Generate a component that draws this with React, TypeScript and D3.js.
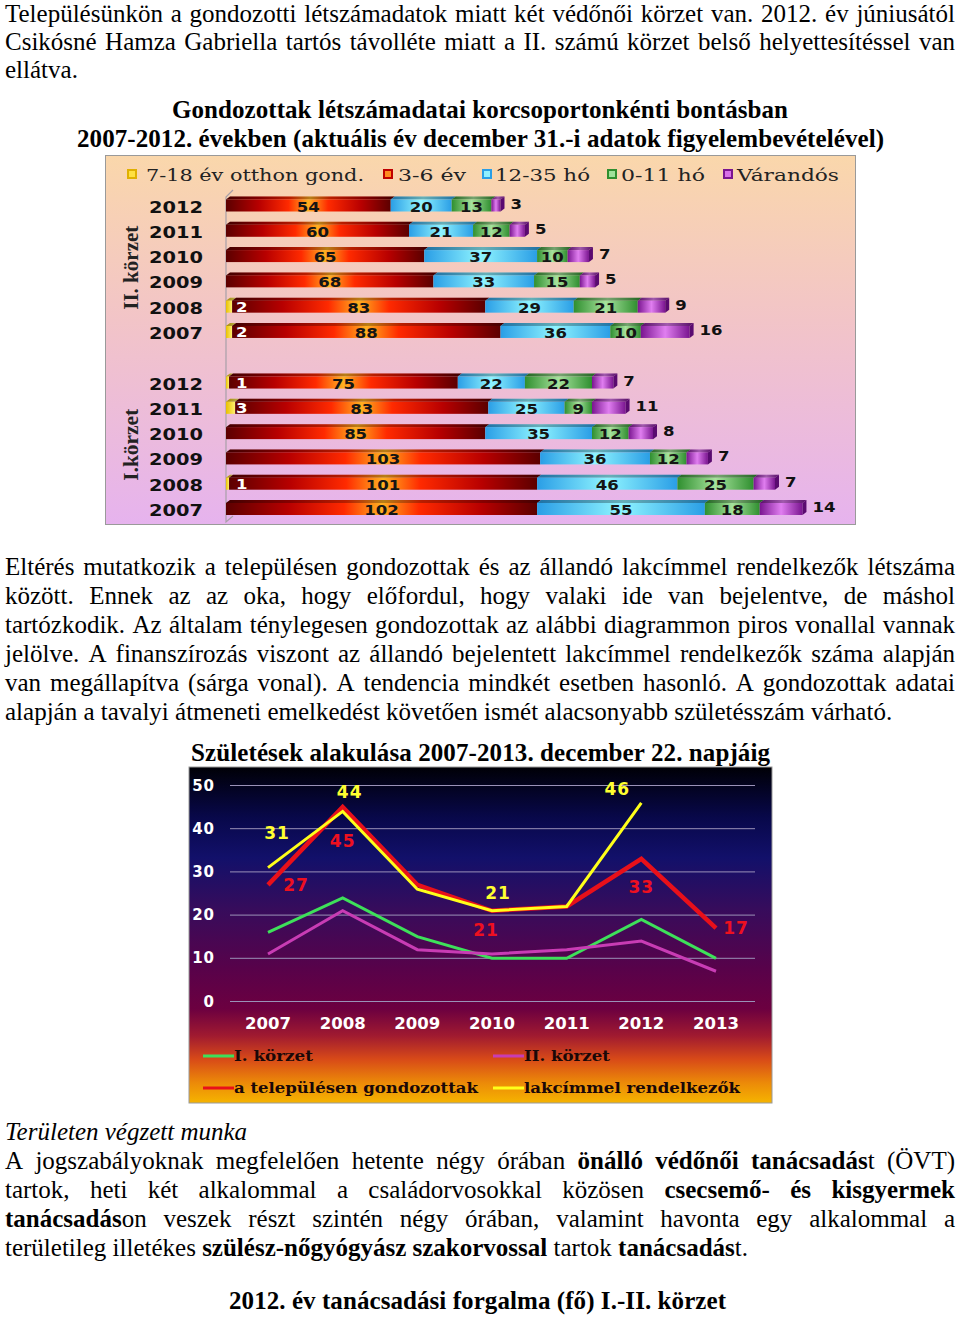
import React, { useMemo } from "react";
import * as d3 from "d3";

// ---------------- Bar chart data ----------------
const barYears = ["2012", "2011", "2010", "2009", "2008", "2007"];
const ageGroups = ["7-18 év otthon gond.", "3-6 év", "12-35 hó", "0-11 hó", "Várandós"];
const districtLabels = ["II. körzet", "I.körzet"];
// District II
const d2Age7to18 = [0, 0, 0, 0, 2, 2];
const d2Age3to6 = [54, 60, 65, 68, 83, 88];
const d2Month12to35 = [20, 21, 37, 33, 29, 36];
const d2Month0to11 = [13, 12, 10, 15, 21, 10];
const d2Expecting = [3, 5, 7, 5, 9, 16];
// District I
const d1Age7to18 = [1, 3, 0, 0, 1, 0];
const d1Age3to6 = [75, 83, 85, 103, 101, 102];
const d1Month12to35 = [22, 25, 35, 36, 46, 55];
const d1Month0to11 = [22, 9, 12, 12, 25, 18];
const d1Expecting = [7, 11, 8, 7, 7, 14];

// ---------------- Line chart data ----------------
const birthYears = ["2007", "2008", "2009", "2010", "2011", "2012", "2013"];
const lineYTicks = [0, 10, 20, 30, 40, 50];
const lineSeriesNames = ["I. körzet", "II. körzet", "a településen gondozottak", "lakcímmel rendelkezők"];
const birthsDistrictI = [16, 24, 15, 10, 10, 19, 10];
const birthsDistrictII = [11, 21, 12, 11, 12, 14, 7];
const birthsCaredFor = [27, 45, 27, 21, 22, 33, 17];
const birthsRegistered: (number | null)[] = [31, 44, 26, 21, 22, 46, null];

// ---------------- Page text ----------------
type Run = { t: string; b?: boolean; i?: boolean };
type Line = { y: number; j: boolean; runs: Run[] };

const para1: Line[] = [
  { y: 22, j: true, runs: [{ t: "Településünkön a gondozotti létszámadatok miatt két védőnői körzet van. 2012. év júniusától" }] },
  { y: 50, j: true, runs: [{ t: "Csikósné Hamza Gabriella tartós távolléte miatt a II. számú körzet belső helyettesítéssel van" }] },
  { y: 78, j: false, runs: [{ t: "ellátva." }] },
];
const para2: Line[] = [
  { y: 575, j: true, runs: [{ t: "Eltérés mutatkozik a településen gondozottak és az állandó lakcímmel rendelkezők létszáma" }] },
  { y: 604, j: true, runs: [{ t: "között. Ennek az az oka, hogy előfordul, hogy valaki ide van bejelentve, de máshol" }] },
  { y: 633, j: true, runs: [{ t: "tartózkodik. Az általam ténylegesen gondozottak az alábbi diagrammon piros vonallal vannak" }] },
  { y: 662, j: true, runs: [{ t: "jelölve. A finanszírozás viszont az állandó bejelentett lakcímmel rendelkezők száma alapján" }] },
  { y: 691, j: true, runs: [{ t: "van megállapítva (sárga vonal). A tendencia mindkét esetben hasonló. A gondozottak adatai" }] },
  { y: 720, j: false, runs: [{ t: "alapján a tavalyi átmeneti emelkedést követően ismét alacsonyabb születésszám várható." }] },
];
const para3: Line[] = [
  { y: 1140, j: false, runs: [{ t: "Területen végzett munka", i: true }] },
  { y: 1169, j: true, runs: [{ t: "A jogszabályoknak megfelelően hetente négy órában " }, { t: "önálló védőnői tanácsadás", b: true }, { t: "t (ÖVT)" }] },
  { y: 1198, j: true, runs: [{ t: "tartok, heti két alkalommal a családorvosokkal közösen " }, { t: "csecsemő- és kisgyermek", b: true }] },
  { y: 1227, j: true, runs: [{ t: "tanácsadás", b: true }, { t: "on veszek részt szintén négy órában, valamint havonta egy alkalommal a" }] },
  { y: 1256, j: false, runs: [{ t: "területileg illetékes " }, { t: "szülész-nőgyógyász szakorvossal", b: true }, { t: " tartok " }, { t: "tanácsadás", b: true }, { t: "t." }] },
];
const headings = [
  { y: 118, t: "Gondozottak létszámadatai korcsoportonkénti bontásban", x0: 172, x1: 788 },
  { y: 147, t: "2007-2012. években (aktuális év december 31.-i adatok figyelembevételével)", x0: 77, x1: 884 },
  { y: 761, t: "Születések alakulása 2007-2013. december 22. napjáig", x0: 191, x1: 770 },
  { y: 1309, t: "2012. év tanácsadási forgalma (fő) I.-II. körzet", x0: 229, x1: 726 },
];

const FS = 25;
const SERIF = '"Liberation Serif", "Times New Roman", serif';
const fontStr = (r: Run) => `${r.i ? "italic " : ""}${r.b ? "bold " : ""}${FS}px "Liberation Serif"`;

function Paragraph({ lines, ctx }: { lines: Line[]; ctx: CanvasRenderingContext2D | null }) {
  const x0 = 5, x1 = 955;
  const measure = (t: string, r: Run) => {
    if (!ctx) return t.length * 10.5;
    ctx.font = fontStr(r);
    return ctx.measureText(t).width;
  };
  return (
    <g>
      {lines.map((line, li) => {
        const tokens: Run[][] = [[]];
        line.runs.forEach((run) => {
          const parts = run.t.split(" ");
          parts.forEach((p, j) => {
            if (j > 0) tokens.push([]);
            if (p.length) tokens[tokens.length - 1].push({ ...run, t: p });
          });
        });
        const toks = tokens.filter((t) => t.length);
        const widths = toks.map((tk) => d3.sum(tk, (p) => measure(p.t, p)));
        const total = d3.sum(widths);
        const gap = line.j && toks.length > 1 ? (x1 - x0 - total) / (toks.length - 1) : measure(" ", {} as Run);
        let x = x0;
        return (
          <g key={li}>
            {toks.map((tk, ti) => {
              const xx = x;
              x += widths[ti] + gap;
              return (
                <text key={ti} x={xx} y={line.y} fontFamily={SERIF} fontSize={FS} fill="#000">
                  {tk.map((p, pi) => (
                    <tspan key={pi} fontWeight={p.b ? "bold" : "normal"} fontStyle={p.i ? "italic" : "normal"}>
                      {p.t}
                    </tspan>
                  ))}
                </text>
              );
            })}
          </g>
        );
      })}
    </g>
  );
}

// ---------------- Bar chart ----------------
const segFills = ["url(#gYel)", "url(#gRed)", "url(#gCyan)", "url(#gGreen)", "url(#gPurp)"];
const sideFills = ["#c09000", "#5a0000", "#1a78b0", "#206a20", "#5a0a70"];
const markerStyle = [
  { stroke: "#e0b000", fill: "#ffe040" },
  { stroke: "#c00000", fill: "#ff8a20" },
  { stroke: "#2a9ee6", fill: "#90f0ff" },
  { stroke: "#2f8f2f", fill: "#9ee29a" },
  { stroke: "#7a1590", fill: "#d870e8" },
];
const legendBox = [
  { mx: 128, tx0: 146, tx1: 364 },
  { mx: 384, tx0: 398, tx1: 466 },
  { mx: 483, tx0: 495, tx1: 590 },
  { mx: 608, tx0: 621, tx1: 705 },
  { mx: 724, tx0: 737, tx1: 839 },
];

function BarChart() {
  const rowKeys = [...barYears.map((y) => "II " + y), "gap", ...barYears.map((y) => "I " + y)];
  const yRow = d3.scalePoint<string>().domain(rowKeys).range([204.5, 508]);
  const xBar = d3.scaleLinear().domain([0, 100]).range([226, 531]);
  const districts = [
    { name: "II", series: [d2Age7to18, d2Age3to6, d2Month12to35, d2Month0to11, d2Expecting] },
    { name: "I", series: [d1Age7to18, d1Age3to6, d1Month12to35, d1Month0to11, d1Expecting] },
  ];
  const depth = 4;
  const rows: any[] = [];
  districts.forEach((d) => {
    barYears.forEach((yr, i) => {
      const cy = yRow(d.name + " " + yr)!;
      let cum = 0;
      const segs: any[] = [];
      d.series.forEach((s, k) => {
        const v = s[i];
        if (v > 0) segs.push({ k, v, x0: xBar(cum), x1: xBar(cum + v) });
        cum += v;
      });
      rows.push({ key: d.name + yr, year: yr, cy, segs, end: xBar(cum) });
    });
  });
  const gLabelY = [
    (yRow("II 2012")! + yRow("II 2007")!) / 2,
    (yRow("I 2012")! + yRow("I 2007")!) / 2,
  ];
  const numFont = { fontFamily: '"DejaVu Sans", sans-serif', fontWeight: "bold" as const, fontSize: 14.5 };
  const numLen = (v: number) => String(v).length * 11.5;
  return (
    <g>
      <rect x={105.5} y={155.5} width={750} height={369} fill="url(#bgBar)" stroke="#9a9a9a" strokeWidth={1} />
      {ageGroups.map((g, k) => (
        <g key={g}>
          <rect x={legendBox[k].mx} y={170} width={8} height={8} fill={markerStyle[k].fill} stroke={markerStyle[k].stroke} strokeWidth={2} />
          <text x={legendBox[k].tx0} y={181} fontFamily='"DejaVu Serif", serif' fontSize={16} fill="#222"
            textLength={legendBox[k].tx1 - legendBox[k].tx0} lengthAdjust="spacingAndGlyphs">{g}</text>
        </g>
      ))}
      <polyline points="233,190 226,197 226,522 233,516" fill="none" stroke="#a8a0a8" strokeWidth={1.2} />
      {districtLabels.map((lab, i) => (
        <text key={lab} transform={`translate(138,${gLabelY[i]})rotate(-90)`} textAnchor="middle"
          fontFamily={SERIF} fontWeight="bold" fontSize={21} fill="#222"
          textLength={i === 0 ? 84 : 72} lengthAdjust="spacingAndGlyphs">{lab}</text>
      ))}
      {rows.map((r) => (
        <g key={r.key}>
          {r.segs.map((s: any) => (
            <g key={s.k}>
              <polygon points={`${s.x0},${r.cy - 5} ${s.x0 + depth},${r.cy - 8} ${s.x1 + depth},${r.cy - 8} ${s.x1},${r.cy - 5}`} fill={segFills[s.k]} />
              <polygon points={`${s.x0},${r.cy - 5} ${s.x0 + depth},${r.cy - 8} ${s.x1 + depth},${r.cy - 8} ${s.x1},${r.cy - 5}`} fill="#000" opacity={0.28} />
              <rect x={s.x0} y={r.cy - 5} width={s.x1 - s.x0} height={12} fill={segFills[s.k]} />
            </g>
          ))}
          {(() => {
            const last = r.segs[r.segs.length - 1];
            return <polygon points={`${last.x1},${r.cy - 5} ${last.x1 + depth},${r.cy - 8} ${last.x1 + depth},${r.cy + 4} ${last.x1},${r.cy + 7}`} fill={sideFills[last.k]} />;
          })()}
          {r.segs.map((s: any) => {
            if (s.k === 0)
              return <text key={"l" + s.k} x={xBar(0) + 10} y={r.cy + 6} fill="#fff" {...numFont}
                textLength={numLen(s.v)} lengthAdjust="spacingAndGlyphs">{s.v}</text>;
            if (s.k === 4)
              return <text key={"l" + s.k} x={s.x1 + 10} y={r.cy + 4} fill="#111" {...numFont}
                textLength={numLen(s.v)} lengthAdjust="spacingAndGlyphs">{s.v}</text>;
            return <text key={"l" + s.k} x={(s.x0 + s.x1) / 2} y={r.cy + 7} textAnchor="middle" fill="#151515" {...numFont}
              textLength={numLen(s.v)} lengthAdjust="spacingAndGlyphs">{s.v}</text>;
          })}
          <text x={203} y={r.cy + 8} textAnchor="end" fontFamily='"DejaVu Sans", sans-serif' fontWeight="bold" fontSize={15}
            fill="#111" textLength={54} lengthAdjust="spacingAndGlyphs">
            {r.year}
          </text>
        </g>
      ))}
    </g>
  );
}

// ---------------- Line chart ----------------
const lineColors = ["#3ee05a", "#c83cb4", "#e8101a", "#ffff1a"];
const lineWidths = [3, 3, 4.5, 3];
const labelOffsets: { s: number; i: number; dx: number; dy: number }[] = [
  { s: 3, i: 0, dx: 9, dy: -35 },
  { s: 3, i: 1, dx: 7, dy: -19 },
  { s: 3, i: 3, dx: 6, dy: -18 },
  { s: 3, i: 5, dx: -24, dy: -14 },
  { s: 2, i: 0, dx: 28, dy: 0 },
  { s: 2, i: 1, dx: 0, dy: 34 },
  { s: 2, i: 3, dx: -6, dy: 19 },
  { s: 2, i: 5, dx: 0, dy: 28 },
  { s: 2, i: 6, dx: 20, dy: 0 },
];
const legendLine = [
  { x: 203, y: 1056, tx1: 313 },
  { x: 493, y: 1056, tx1: 610 },
  { x: 203, y: 1088, tx1: 478 },
  { x: 493, y: 1088, tx1: 740 },
];

function LineChart() {
  const xLine = d3.scalePoint<string>().domain(birthYears).range([268, 716]);
  const yLine = d3.scaleLinear().domain([0, 50]).range([1001.5, 785.5]);
  const series = [birthsDistrictI, birthsDistrictII, birthsCaredFor, birthsRegistered];
  const gen = d3
    .line<number | null>()
    .defined((d) => d != null)
    .x((_, i) => xLine(birthYears[i])!)
    .y((d) => yLine(d as number));
  return (
    <g>
      <rect x={189} y={767} width={583} height={336} fill="url(#bgLine)" stroke="#9a9a9a" strokeWidth={1} />
      {lineYTicks.map((t) => (
        <g key={t}>
          <line x1={230} x2={755} y1={yLine(t)} y2={yLine(t)} stroke="#9a92b8" strokeWidth={1} />
          <text x={215} y={yLine(t) + 5} textAnchor="end" fill="#fff" fontFamily='"DejaVu Sans", sans-serif' fontWeight="bold" fontSize={15} letterSpacing={1}>{t}</text>
        </g>
      ))}
      {birthYears.map((y) => (
        <text key={y} x={xLine(y)} y={1029} textAnchor="middle" fill="#fff" fontFamily='"DejaVu Sans", sans-serif' fontWeight="bold" fontSize={15}
          textLength={46} lengthAdjust="spacingAndGlyphs">{y}</text>
      ))}
      {series.map((s, k) => (
        <path key={k} d={gen(s) || ""} fill="none" stroke={lineColors[k]} strokeWidth={lineWidths[k]} strokeLinejoin="miter" />
      ))}
      {labelOffsets.map((l, j) => {
        const v = series[l.s][l.i] as number;
        return (
          <text key={j} x={xLine(birthYears[l.i])! + l.dx} y={yLine(v) + l.dy + 6} textAnchor="middle"
            fill={l.s === 3 ? "#ffff30" : "#ee1020"} fontFamily='"DejaVu Sans", sans-serif' fontWeight="bold" fontSize={17} letterSpacing={1}>
            {v}
          </text>
        );
      })}
      {lineSeriesNames.map((n, k) => (
        <g key={n}>
          <line x1={legendLine[k].x} x2={legendLine[k].x + 31} y1={legendLine[k].y} y2={legendLine[k].y} stroke={lineColors[k]} strokeWidth={3} />
          <text x={legendLine[k].x + 31} y={legendLine[k].y + 5} fontFamily='"DejaVu Serif", serif' fontWeight="bold" fontSize={15} fill="#1a0808"
            textLength={legendLine[k].tx1 - legendLine[k].x - 31} lengthAdjust="spacingAndGlyphs">{n}</text>
        </g>
      ))}
    </g>
  );
}

export default function App() {
  const ctx = useMemo(() => {
    if (typeof document === "undefined") return null;
    return document.createElement("canvas").getContext("2d");
  }, []);
  return (
    <svg width={960} height={1319} style={{ position: "absolute", left: 0, top: 0, background: "#fff" }}>
      <defs>
        <linearGradient id="bgBar" x1="0" y1="0" x2="0" y2="1">
          <stop offset="0" stopColor="#fad7ab" />
          <stop offset="0.45" stopColor="#f2c4c8" />
          <stop offset="1" stopColor="#e6b3ee" />
        </linearGradient>
        <linearGradient id="bgLine" x1="0" y1="0" x2="0" y2="1">
          <stop offset="0" stopColor="#000006" />
          <stop offset="0.15" stopColor="#08084a" />
          <stop offset="0.27" stopColor="#12106a" />
          <stop offset="0.42" stopColor="#360c5c" />
          <stop offset="0.6" stopColor="#58024a" />
          <stop offset="0.72" stopColor="#6c0040" />
          <stop offset="0.8" stopColor="#a01a30" />
          <stop offset="0.87" stopColor="#d84a18" />
          <stop offset="0.94" stopColor="#ec8a08" />
          <stop offset="1" stopColor="#f6b400" />
        </linearGradient>
        <linearGradient id="gRed" x1="0" y1="0" x2="1" y2="0">
          <stop offset="0" stopColor="#5c0000" />
          <stop offset="0.2" stopColor="#b80000" />
          <stop offset="0.38" stopColor="#ff2a00" />
          <stop offset="0.5" stopColor="#ffb020" />
          <stop offset="0.62" stopColor="#ff2a00" />
          <stop offset="0.82" stopColor="#b80000" />
          <stop offset="1" stopColor="#5c0000" />
        </linearGradient>
        <linearGradient id="gCyan" x1="0" y1="0" x2="1" y2="0">
          <stop offset="0" stopColor="#2a9ee6" />
          <stop offset="0.5" stopColor="#8ff4ff" />
          <stop offset="1" stopColor="#2a9ee6" />
        </linearGradient>
        <linearGradient id="gGreen" x1="0" y1="0" x2="1" y2="0">
          <stop offset="0" stopColor="#2f8f2f" />
          <stop offset="0.5" stopColor="#a6e29c" />
          <stop offset="1" stopColor="#2f8f2f" />
        </linearGradient>
        <linearGradient id="gPurp" x1="0" y1="0" x2="1" y2="0">
          <stop offset="0" stopColor="#7a1590" />
          <stop offset="0.5" stopColor="#e07ef0" />
          <stop offset="1" stopColor="#7a1590" />
        </linearGradient>
        <linearGradient id="gYel" x1="0" y1="0" x2="1" y2="0">
          <stop offset="0" stopColor="#e8c000" />
          <stop offset="1" stopColor="#fff070" />
        </linearGradient>
      </defs>
      <Paragraph lines={para1} ctx={ctx} />
      {headings.map((h) => (
        <text key={h.t} x={(h.x0 + h.x1) / 2} y={h.y} textAnchor="middle" fontFamily={SERIF} fontWeight="bold" fontSize={FS}
          textLength={h.x1 - h.x0} lengthAdjust="spacing">{h.t}</text>
      ))}
      <BarChart />
      <Paragraph lines={para2} ctx={ctx} />
      <LineChart />
      <Paragraph lines={para3} ctx={ctx} />
    </svg>
  );
}
